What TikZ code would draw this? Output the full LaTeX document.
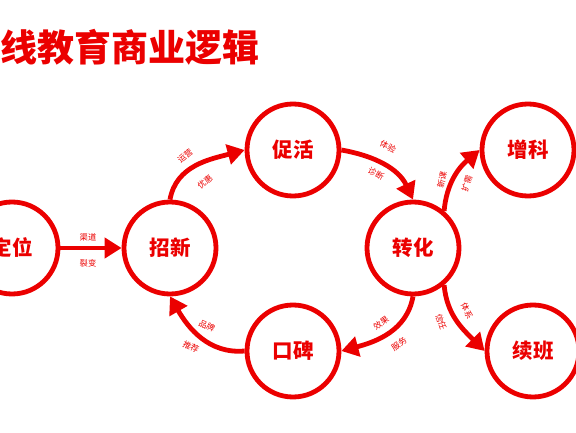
\documentclass[tikz,border=0pt]{standalone}
\usepackage{fontspec}
\setmainfont{Noto Sans CJK SC}
\usetikzlibrary{arrows.meta}
\definecolor{zr}{RGB}{235,0,0}
\begin{document}
\begin{tikzpicture}[x=1pt,y=1pt,
  stage/.style={circle,draw=zr,line width=4.8pt,minimum size=92pt,inner sep=0pt,
    font=\fontsize{20.5}{20.5}\selectfont\bfseries,text=zr},
  flow/.style={draw=zr,line width=4.8pt,-{Triangle[length=17pt,width=20pt]}},
  lab/.style={font=\fontsize{8.3}{8.5}\selectfont,text=zr,inner sep=0pt}]
\useasboundingbox (0,0) rectangle (576,432);
\node[anchor=west,inner sep=0pt,text=zr,font=\fontsize{37}{37}\selectfont\bfseries] (title) at (0,385) {线教育商业逻辑};
\node[stage] (dw) at (12,184) {定位};
\node[stage] (zx) at (170,184) {招新};
\node[stage] (ch) at (293,282) {促活};
\node[stage] (zh) at (413,184) {转化};
\node[stage] (kb) at (293,81) {口碑};
\node[stage] (zk) at (528,282) {增科};
\node[stage] (xb) at (533,81) {续班};
\draw[flow] (dw) -- (zx);
\draw[flow] (zx.north) to[out=80,in=195] (ch.west);
\draw[flow] (ch.east) to[out=-10,in=115] (zh.north);
\draw[flow] (zh.south) to[out=-100,in=15] (kb.east);
\draw[flow] (kb.west) to[out=185,in=-60] (zx.south);
\draw[flow] (zh.50) to[out=85,in=220] (zk.west);
\draw[flow] (zh.-50) to[out=-85,in=135] (xb.west);
\node[lab] (l1) at (88,195) {渠道};
\node[lab] (l2) at (88,169) {裂变};
\node[lab,rotate=40] (l3) at (185,276) {运营};
\node[lab,rotate=40] (l4) at (205,250) {优惠};
\node[lab,rotate=-28] (l5) at (388,285) {体验};
\node[lab,rotate=-28] (l6) at (376,258) {诊断};
\node[lab,rotate=78] (l7) at (442,252) {新课};
\node[lab,rotate=72] (l8) at (467,248) {扩需};
\node[lab,rotate=-72] (l9) at (441,110) {信任};
\node[lab,rotate=-65] (l10) at (467,121) {体系};
\node[lab,rotate=35] (l11) at (381,109) {效果};
\node[lab,rotate=35] (l12) at (399,88) {服务};
\node[lab,rotate=-25] (l13) at (207,106) {品牌};
\node[lab,rotate=-25] (l14) at (191,85) {推荐};
\end{tikzpicture}
\end{document}
